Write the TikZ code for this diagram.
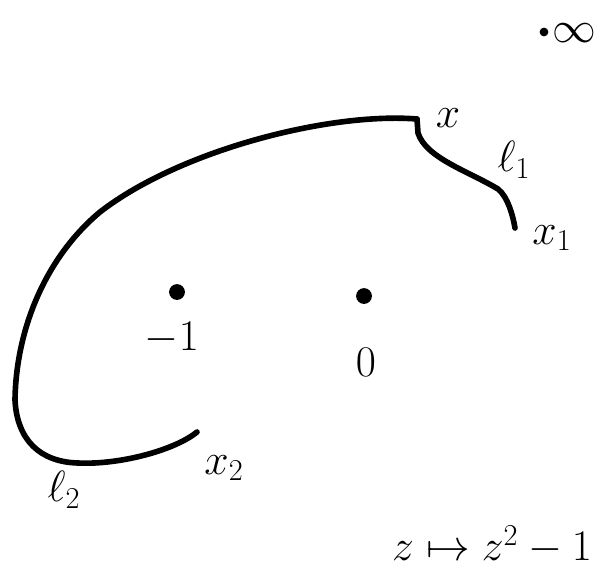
\documentclass[tikz,border=0pt]{standalone}
\usepackage{amsmath, amssymb}
\usetikzlibrary{positioning, calc}
\tikzset{
  curveline/.style={line width=3.2pt, line cap=round, line join=round, black},
  hand/.style={font=\fontsize{26}{30}\selectfont, inner sep=0pt}
}

\begin{document}
\begin{tikzpicture}[x=0.02cm, y=-0.02cm,
    pointdot/.style={circle, fill=black, inner sep=0pt, minimum size=9pt},
    smalldot/.style={circle, fill=black, inner sep=0pt, minimum size=5pt}]

    % Frame of the picture
    \useasboundingbox (0,0) rectangle (605,569);

    % End points of the paths
    \coordinate (x) at (417,119);
    \coordinate (xone) at (515,228);
    \coordinate (xtwo) at (197,432);

    % Fixed points
    \node[pointdot] (mone) at (177,292) {};
    \node[pointdot] (zero) at (364,296) {};
    \node[smalldot] (inf) at (544,32) {};

    % Labels
    \node[hand] (lx) at (448,118) {$x$};
    \node[hand] (lxone) at (552,238) {$x_1$};
    \node[hand] (lxtwo) at (224,468) {$x_2$};
    \node[hand] (lone) at (514,160) {$\ell_1$};
    \node[hand] (ltwo) at (64,490) {$\ell_2$};
    \node[hand] (lmone) at (172,338) {$-1$};
    \node[hand] (lzero) at (366,362) {$0$};
    \node[hand] (linf) at (574,33) {$\infty$};
    \node[hand] (lmap) at (492,545) {$z\mapsto z^2-1$};

    % Path l1
    \draw[curveline] (x) -- ++(1,14) .. controls +(8,25) and +(-30,-18) .. ++(80,56)
        .. controls +(10,8) and +(-2,-12) .. (xone);

    % Path l2
    \draw[curveline] (x) .. controls (330,112) and (180,150) .. (100,212)
        .. controls (45,258) and (16,330) .. (15,400)
        .. controls (17,440) and (40,462) .. (78,463)
        .. controls (120,465) and (175,450) .. (xtwo);

\end{tikzpicture}
\end{document}
